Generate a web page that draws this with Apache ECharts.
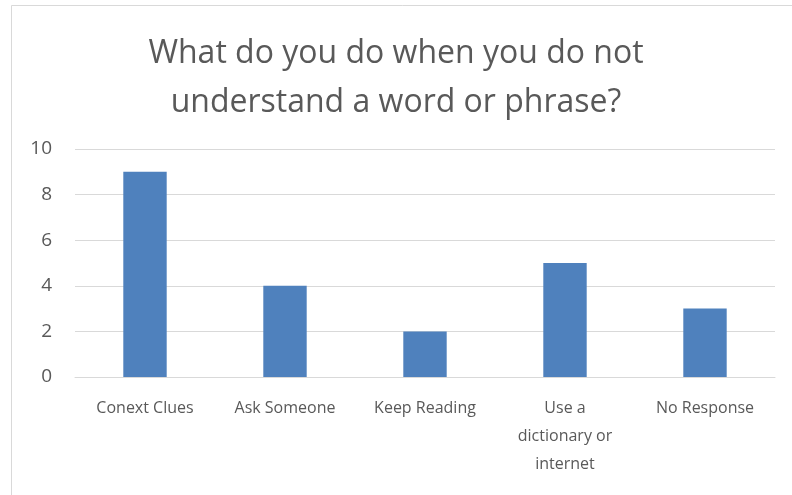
<!DOCTYPE html>
<html>
<head>
<meta charset="utf-8">
<script src="https://cdn.jsdelivr.net/npm/echarts@6/dist/echarts.min.js"></script>
<style>
  html, body { margin: 0; padding: 0; background: #fff; }
  #chart { width: 792px; height: 495px; }
</style>
</head>
<body>
<div id="chart"></div>
<script>
const categories = ['Conext Clues', 'Ask Someone', 'Keep Reading', 'Use a\ndictionary or\ninternet', 'No Response']
const values = [9, 4, 2, 5, 3]

const chart = echarts.init(document.getElementById('chart'))

const option = {
  backgroundColor: '#fff',
  animation: false,
  title: {
    text: 'What do you do when you do not\nunderstand a word or phrase?',
    left: 'center',
    top: 24,
    textStyle: {
      fontFamily: 'Open Sans',
      fontSize: 32,
      fontWeight: 'normal',
      color: '#595959',
      lineHeight: 49
    }
  },
  graphic: [{
    type: 'rect',
    shape: { x: 11.5, y: 5.5, width: 800, height: 500 },
    style: { fill: 'none', stroke: '#d9d9d9', lineWidth: 1 },
    silent: true
  }],
  grid: {
    left: 75,
    right: 17,
    top: 149,
    bottom: 118
  },
  xAxis: {
    type: 'category',
    data: categories,
    axisLine: { lineStyle: { color: '#d9d9d9', width: 1 } },
    axisTick: { show: false },
    axisLabel: {
      color: '#595959',
      fontFamily: 'Open Sans',
      fontSize: 16,
      lineHeight: 28,
      margin: 17,
      interval: 0
    }
  },
  yAxis: {
    type: 'value',
    min: 0,
    max: 10,
    interval: 2,
    axisLine: { show: false },
    axisTick: { show: false },
    splitLine: { lineStyle: { color: '#d9d9d9', width: 1 } },
    axisLabel: {
      color: '#595959',
      fontFamily: 'Open Sans',
      fontSize: 19,
      margin: 23
    }
  },
  series: [{
    type: 'bar',
    data: values,
    barWidth: '31%',
    itemStyle: { color: '#4f81bd' }
  }]
}

chart.setOption(option)
</script>
</body>
</html>
